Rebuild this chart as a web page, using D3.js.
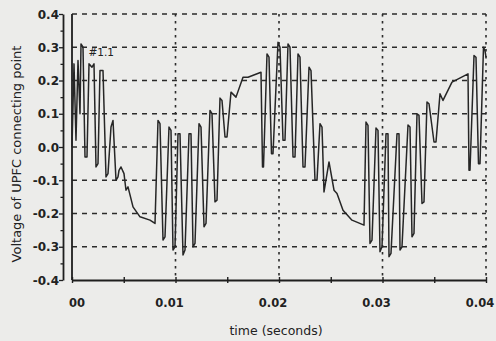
<!DOCTYPE html>
<html>
<head>
<meta charset="utf-8">
<script src="https://cdn.jsdelivr.net/npm/d3@7"></script>
<style>
  html, body { margin: 0; padding: 0; background: #ececea; }
  svg { display: block; }
  text { font-family: "DejaVu Sans", sans-serif; fill: #222; }
</style>
</head>
<body>
<div id="chart"></div>
<script>
// ---- data (time in milliseconds, voltage in p.u.) ----
const timeMs = [
  0, 0.193, 0.386, 0.580, 0.773, 0.870, 1.063, 1.256, 1.449, 1.643, 1.932, 2.126, 2.319, 2.512,
  2.705, 2.995, 3.285, 3.478, 3.768, 3.961, 4.251, 4.444, 4.541, 4.734, 5.024, 5.217, 5.411,
  5.894, 6.570, 7.536, 8.019,
  8.309, 8.502, 8.792, 8.986, 9.372, 9.565, 9.758, 9.952, 10.242, 10.435, 10.725, 10.918,
  11.304, 11.498, 11.691, 11.884, 12.271, 12.464, 12.754, 12.947, 13.333, 13.527, 13.816, 14.010,
  14.300, 14.493, 14.783, 14.976, 15.362, 15.845, 16.522, 17.005, 18.261,
  18.406, 18.502, 18.841, 19.034, 19.275, 19.420, 19.903, 20.097, 20.386, 20.580, 20.870, 21.063,
  21.353, 21.546, 21.836, 22.029, 22.319, 22.512, 22.899, 23.092, 23.478, 23.671, 23.961, 24.155,
  24.348, 24.831, 25.314, 25.604, 26.184, 27.053, 28.213,
  28.406, 28.599, 28.792, 28.986, 29.372, 29.565, 29.758, 29.952, 30.338, 30.531, 30.628, 30.821,
  31.401, 31.594, 31.691, 31.884, 32.464, 32.657, 32.850, 33.043, 33.333, 33.527, 33.816, 34.010,
  34.300, 34.493, 34.976, 35.169, 35.556, 35.845, 36.715, 38.261,
  38.357, 38.454, 38.841, 39.034, 39.275, 39.420, 39.758, 39.903, 40.0
];
const voltage = [
  0.00, 0.25, 0.02, 0.26, 0.10, 0.31, 0.30, -0.03, -0.03, 0.25, 0.24, 0.25, -0.06, -0.05,
  0.23, 0.23, -0.09, -0.08, 0.06, 0.08, -0.10, -0.09, -0.07, -0.06, -0.08, -0.13, -0.12,
  -0.18, -0.21, -0.22, -0.23,
  0.08, 0.07, -0.28, -0.27, 0.06, 0.05, -0.31, -0.30, 0.04, 0.04, -0.325, -0.31,
  0.04, 0.04, -0.30, -0.29, 0.07, 0.06, -0.24, -0.23, 0.11, 0.10, -0.165, -0.16,
  0.147, 0.14, 0.03, 0.03, 0.165, 0.15, 0.21, 0.21, 0.225,
  -0.06, -0.06, 0.28, 0.27, -0.02, -0.02, 0.315, 0.30, 0.02, 0.02, 0.31, 0.30,
  -0.03, -0.03, 0.28, 0.27, -0.06, -0.06, 0.24, 0.23, -0.10, -0.10, 0.07, 0.06,
  -0.135, -0.045, -0.13, -0.14, -0.19, -0.22, -0.235,
  0.075, 0.065, -0.29, -0.28, 0.057, 0.05, -0.315, -0.30, 0.04, 0.04, -0.33, -0.32,
  0.04, 0.04, -0.31, -0.30, 0.066, 0.06, -0.27, -0.26, 0.10, 0.095, -0.17, -0.165,
  0.135, 0.13, 0.015, 0.015, 0.16, 0.14, 0.195, 0.22,
  -0.07, -0.07, 0.275, 0.27, -0.05, -0.05, 0.30, 0.29, 0.27
];
const xTickValues = [0, 0.01, 0.02, 0.03, 0.04];
const xTickLabels = ["00", "0.01", "0.02", "0.03", "0.04"];
const yTickValues = [0.4, 0.3, 0.2, 0.1, 0.0, -0.1, -0.2, -0.3, -0.4];
const yTickLabels = ["0.4", "0.3", "0.2", "0.1", "0.0", "-0.1", "-0.2", "-0.3", "-0.4"];
const yGridValues = [0.4, 0.3, 0.2, 0.1, 0.0, -0.1, -0.2, -0.3];
const xGridValues = [0.01, 0.02, 0.03, 0.04];
const xTitle = "time (seconds)";
const yTitle = "Voltage of UPFC connecting point";
const curveLabel = "#1.1";

// ---- layout ----
const W = 496, H = 341;
const plot = { left: 72, right: 486, top: 14, bottom: 280 };
const yAxisX = 63;

const svg = d3.select("#chart").append("svg")
  .attr("width", W).attr("height", H);

svg.append("rect").attr("width", W).attr("height", H).attr("fill", "#ececea");

const x = d3.scaleLinear().domain([0, 0.04]).range([plot.left, plot.right]);
const y = d3.scaleLinear().domain([-0.4, 0.4]).range([plot.bottom, plot.top]);

// horizontal dashed grid
svg.append("g").selectAll("line").data(yGridValues).join("line")
  .attr("x1", plot.left).attr("x2", plot.right)
  .attr("y1", d => y(d)).attr("y2", d => y(d))
  .attr("stroke", "#2b2b2b").attr("stroke-width", 1.5)
  .attr("stroke-dasharray", "5,5");

// vertical dotted grid
svg.append("g").selectAll("line").data(xGridValues).join("line")
  .attr("x1", d => x(d)).attr("x2", d => x(d))
  .attr("y1", plot.top).attr("y2", plot.bottom)
  .attr("stroke", "#2b2b2b").attr("stroke-width", 1.6)
  .attr("stroke-dasharray", "2.5,4.5");

// left frame line at t = 0
svg.append("line")
  .attr("x1", x(0)).attr("x2", x(0)).attr("y1", plot.top).attr("y2", plot.bottom)
  .attr("stroke", "#1e1e1e").attr("stroke-width", 1.8);

// x axis
const xAxis = d3.axisBottom(x)
  .tickValues(d3.range(0, 0.0401, 0.005))
  .tickSize(0).tickFormat("");
const gx = svg.append("g").attr("transform", `translate(0,${plot.bottom})`).call(xAxis);
gx.select(".domain").attr("stroke", "#1e1e1e").attr("stroke-width", 1.8);
gx.selectAll(".tick line").attr("y1", -3).attr("y2", 3).attr("stroke", "#1e1e1e").attr("stroke-width", 1.4);

svg.append("g").selectAll("text").data(xTickValues).join("text")
  .attr("x", (d, i) => x(d) + (i === 0 ? 5 : -6))
  .attr("y", 307)
  .attr("text-anchor", "middle")
  .attr("font-size", 11.5)
  .attr("font-weight", "bold")
  .text((d, i) => xTickLabels[i]);

// y axis (offset to the left of the plot)
const yAxis = d3.axisLeft(y)
  .tickValues(d3.range(-0.4, 0.4001, 0.05))
  .tickSize(0).tickFormat("");
const gy = svg.append("g").attr("transform", `translate(${yAxisX},0)`).call(yAxis);
gy.select(".domain").attr("stroke", "#1e1e1e").attr("stroke-width", 1.8);
gy.selectAll(".tick line")
  .attr("x2", (d) => Math.abs(Math.round(d * 20)) % 2 === 0 ? -4 : -2.5)
  .attr("stroke", "#1e1e1e").attr("stroke-width", 1.3);

svg.append("g").selectAll("text").data(yTickValues).join("text")
  .attr("x", yAxisX - 4)
  .attr("y", d => y(d) + 4.5)
  .attr("text-anchor", "end")
  .attr("font-size", 12)
  .attr("font-weight", "bold")
  .text((d, i) => yTickLabels[i]);

// waveform
const pts = timeMs.map((t, i) => [t / 1000, voltage[i]]);
svg.append("path")
  .datum(pts)
  .attr("fill", "none")
  .attr("stroke", "#262626")
  .attr("stroke-width", 1.5)
  .attr("stroke-linejoin", "round")
  .attr("d", d3.line().x(d => x(d[0])).y(d => y(d[1])));

// curve label
svg.append("text")
  .attr("x", x(0.0016)).attr("y", y(0.275))
  .attr("font-size", 10.5)
  .text(curveLabel);

// titles
svg.append("text")
  .attr("x", 276).attr("y", 335)
  .attr("text-anchor", "middle")
  .attr("font-size", 12.5)
  .text(xTitle);

svg.append("text")
  .attr("transform", `translate(21,154) rotate(-90)`)
  .attr("text-anchor", "middle")
  .attr("font-size", 13)
  .text(yTitle);
</script>
</body>
</html>
